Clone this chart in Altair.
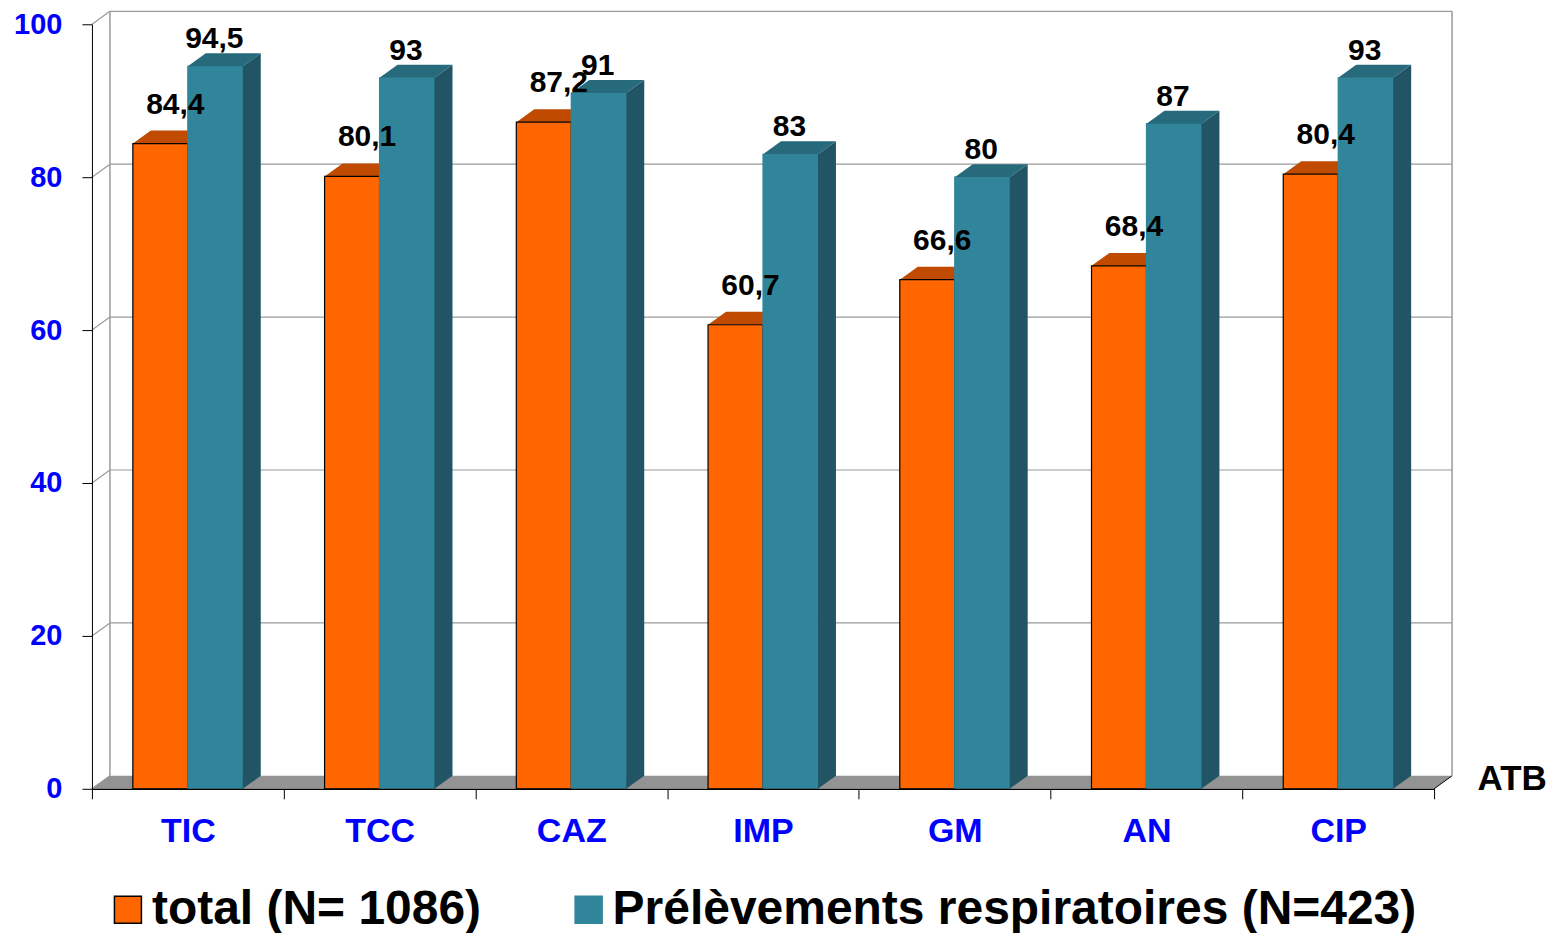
import altair as alt
import pandas as pd

# ---- data ----
categories = ["TIC", "TCC", "CAZ", "IMP", "GM", "AN", "CIP"]
total_values = [84.4, 80.1, 87.2, 60.7, 66.6, 68.4, 80.4]
resp_values = [94.5, 93, 91, 83, 80, 87, 93]
series_names = ["total (N= 1086)", "Prélèvements respiratoires (N=423)"]
y_ticks = [0, 20, 40, 60, 80, 100]

# ---- layout / style constants ----
W, H = 1343, 765
N = len(categories)
UX = N / W          # data units per pixel (x)
UY = 100 / H        # data units per pixel (y)
BAR = 55 * UX       # bar width
DX = 18 * UX        # depth offset x
DY = 13 * UY        # depth offset y

ORANGE, ORANGE_TOP = "#FF6600", "#C04A00"
TEAL, TEAL_TOP, TEAL_SIDE = "#31859B", "#266A7C", "#215566"
GRID = "#9A9A9A"
FLOOR = "#939393"
BLUE = "#0000FF"
FONT = "Liberation Sans"


def lab(v):
    return f"{v:g}".replace(".", ",")


xs = alt.Scale(domain=[0, N], nice=False, zero=False)
ys = alt.Scale(domain=[0, 100], nice=False, zero=True)

cat_array = "[" + ",".join(f"'{c}'" for c in categories) + "]"
x_axis = alt.Axis(
    values=[i / 2 for i in range(2 * N + 1)],
    labelExpr=f"datum.value % 1 == 0.5 ? {cat_array}[floor(datum.value)] : ''",
    tickOpacity={"condition": {"test": "datum.value % 1 == 0", "value": 1}, "value": 0},
    tickSize=10, tickColor="black", domainColor="black", domainWidth=1.2,
    labelFont=FONT, labelFontSize=34, labelFontWeight="bold", labelColor=BLUE,
    labelPadding=16, labelFlush=False, labelOverlap=False, grid=False,
    title="ATB", titleFont=FONT, titleFontSize=35, titleFontWeight="bold",
    titleColor="black", titleX=1386, titleY=-10, titleAlign="left",
    titleBaseline="middle", titleAngle=0, zindex=1,
)
y_axis = alt.Axis(
    values=y_ticks, tickSize=10, tickColor="black", domainColor="black",
    labelFont=FONT, labelFontSize=29, labelFontWeight="bold", labelColor=BLUE,
    labelPadding=20, grid=False, title=None, zindex=1,
)


def X(f):
    return alt.X(f, type="quantitative", scale=xs, axis=x_axis)


def Y(f):
    return alt.Y(f, type="quantitative", scale=ys, axis=y_axis, stack=None)


# ---- walls / grid ----
grid_back = pd.DataFrame({"x": [DX] * (len(y_ticks) - 1), "x2": [N + DX] * (len(y_ticks) - 1),
                          "y": [v + DY for v in y_ticks[1:]]})
grid_side = pd.DataFrame({"x": [0.0] * len(y_ticks), "x2": [DX] * len(y_ticks),
                          "y": [float(v) for v in y_ticks], "y2": [v + DY for v in y_ticks]})
edges_v = pd.DataFrame({"x": [DX, N + DX], "y": [DY, DY], "y2": [100 + DY, 100 + DY]})

floor = pd.DataFrame({
    "x": [0.0, DX, float(N), N + DX],
    "y": [0.0, 0.0, 0.0, DY],
    "y2": [0.0, DY, DY, DY],
})
floor_edge = pd.DataFrame({"x": [float(N)], "x2": [N + DX], "y": [0.0], "y2": [DY]})

back_rules = alt.Chart(grid_back).mark_rule(color=GRID, strokeWidth=1.2, clip=False).encode(
    x=X("x"), x2="x2", y=Y("y"))
side_rules = alt.Chart(grid_side).mark_rule(color=GRID, strokeWidth=1.2, clip=False).encode(
    x=X("x"), x2="x2", y=Y("y"), y2="y2")
vert_rules = alt.Chart(edges_v).mark_rule(color=GRID, strokeWidth=1.5, clip=False).encode(
    x=X("x"), y=Y("y"), y2="y2")
floor_area = alt.Chart(floor).mark_area(color=FLOOR, clip=False, opacity=1).encode(
    x=X("x"), y=Y("y"), y2="y2")
floor_line = alt.Chart(floor_edge).mark_rule(color="black", strokeWidth=1, clip=False).encode(
    x=X("x"), x2="x2", y=Y("y"), y2="y2")

# ---- bars ----
front_rows, top_rows, side_rows = [], [], []
for i, c in enumerate(categories):
    mid = i + 0.5
    for s, v, xl in ((series_names[0], total_values[i], mid - BAR),
                     (series_names[1], resp_values[i], mid)):
        xr = xl + BAR
        front_rows.append({"cat": c, "series": s, "x": xl, "x2": xr, "y": 0.0, "y2": v,
                           "label": lab(v), "xc": (xl + xr) / 2})
        bid = f"{c}-{s}"
        for px, py, py2 in ((xl, v, v), (xl + DX, v, v + DY), (xr, v, v + DY), (xr + DX, v + DY, v + DY)):
            top_rows.append({"id": bid, "series": s, "x": px, "y": py, "y2": py2})
        if s == series_names[1]:
            for px, py, py2 in ((xr, 0.0, v), (xr + DX, DY, v + DY)):
                side_rows.append({"id": bid, "x": px, "y": py, "y2": py2})

front = pd.DataFrame(front_rows)
tops = pd.DataFrame(top_rows)
sides = pd.DataFrame(side_rows)

legend = alt.Legend(
    title=None, orient="none", direction="horizontal", legendX=12, legendY=862,
    symbolType="square", symbolSize=729, symbolStrokeWidth=1.5, symbolOpacity=1,
    labelFont=FONT, labelFontSize=48, labelFontWeight="bold", labelColor="black",
    labelLimit=2000, labelOffset=0, columnPadding=83, padding=0,
)
color_scale = alt.Scale(domain=series_names, range=[ORANGE, TEAL])
stroke_scale = alt.Scale(domain=series_names, range=["black", TEAL])


def bars_front(s):
    return alt.Chart(front[front.series == s]).mark_rect(strokeWidth=1.2, clip=False).encode(
        x=X("x"), x2="x2", y=Y("y"), y2="y2",
        color=alt.Color("series:N", scale=color_scale, legend=legend),
        stroke=alt.Stroke("series:N", scale=stroke_scale, legend=legend),
    )


def bars_top(s, col):
    return alt.Chart(tops[tops.series == s]).mark_area(color=col, clip=False, opacity=1).encode(
        x=X("x"), y=Y("y"), y2="y2", detail="id:N")


orange_front = bars_front(series_names[0])
orange_top = bars_top(series_names[0], ORANGE_TOP)
teal_front = bars_front(series_names[1])
teal_top = bars_top(series_names[1], TEAL_TOP)
teal_side = alt.Chart(sides).mark_area(color=TEAL_SIDE, clip=False, opacity=1).encode(
    x=X("x"), y=Y("y"), y2="y2", detail="id:N")

# ---- value labels ----
lab_orange = alt.Chart(front[front.series == series_names[0]]).mark_text(
    font=FONT, fontSize=30, fontWeight="bold", color="black", align="center",
    baseline="alphabetic", dx=15, dy=-30, clip=False).encode(
    x=X("xc"), y=Y("y2"), text="label:N")
lab_teal = alt.Chart(front[front.series == series_names[1]]).mark_text(
    font=FONT, fontSize=30, fontWeight="bold", color="black", align="center",
    baseline="alphabetic", dx=-1, dy=-18, clip=False).encode(
    x=X("xc"), y=Y("y2"), text="label:N")

chart = alt.layer(
    back_rules, side_rules, vert_rules, floor_area, floor_line,
    orange_top, orange_front, teal_front, teal_top, teal_side,
    lab_orange, lab_teal,
).resolve_scale(color="shared", stroke="shared").properties(
    width=W, height=H,
    autosize=alt.AutoSizeParams(type="none"),
    padding={"left": 84, "top": 16, "right": 115, "bottom": 144},
    background="white",
).configure_view(stroke=None)

chart.save("out.html", embed_options={"renderer": "svg", "actions": False})
